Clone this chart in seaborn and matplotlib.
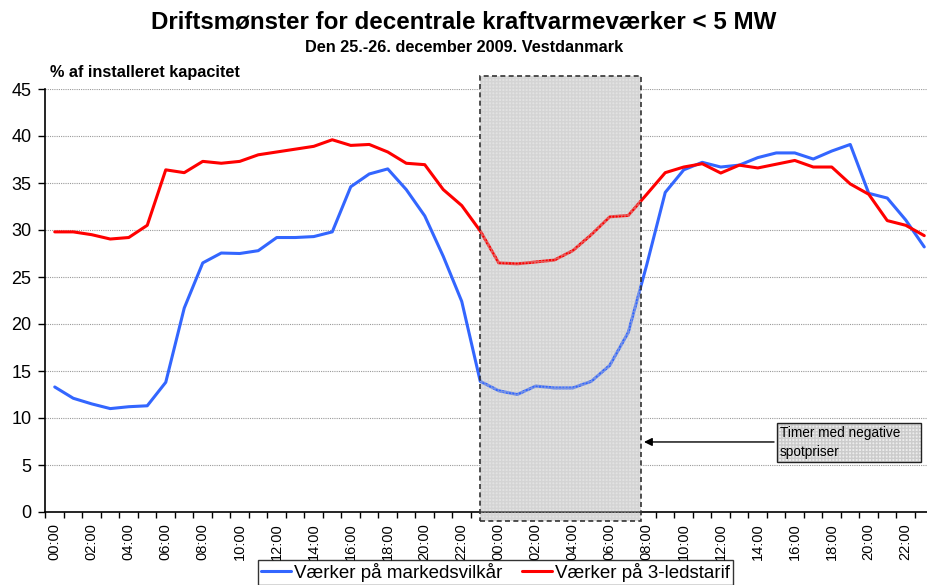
import matplotlib
matplotlib.use("Agg")
import matplotlib.pyplot as plt
from matplotlib.patches import Rectangle
from matplotlib.ticker import FixedLocator
import seaborn as sns
import pandas as pd
import numpy as np

hours = [f"{h:02d}:00" for h in range(24)]
tick_labels = hours[::2] + hours[::2]

markeds = [13.3, 12.1, 11.5, 11.0, 11.2, 11.3, 13.8, 21.7, 26.5, 27.55, 27.5, 27.8,
           29.2, 29.2, 29.3, 29.8, 34.6, 35.96, 36.5, 34.3, 31.5, 27.2, 22.4, 13.9,
           12.9, 12.5, 13.4, 13.2, 13.2, 13.9, 15.6, 19.1, 26.3, 34.0, 36.4, 37.2,
           36.7, 36.9, 37.7, 38.2, 38.2, 37.55, 38.4, 39.1, 33.9, 33.4, 31.06, 28.2]
treled = [29.8, 29.8, 29.5, 29.04, 29.2, 30.5, 36.4, 36.1, 37.3, 37.1, 37.3, 38.0,
          38.3, 38.6, 38.9, 39.6, 39.0, 39.1, 38.3, 37.1, 36.95, 34.3, 32.6, 29.9,
          26.5, 26.4, 26.6, 26.8, 27.8, 29.5, 31.4, 31.55, 33.8, 36.1, 36.7, 37.05,
          36.06, 36.9, 36.6, 37.0, 37.4, 36.7, 36.7, 34.9, 33.8, 31.0, 30.5, 29.4]
series_names = ["Værker på markedsvilkår", "Værker på 3-ledstarif"]
neg_start, neg_end = 23.0, 31.7

sns.set_theme(style="white")
plt.rcParams['font.family'] = ['Liberation Sans', 'DejaVu Sans']
plt.rcParams['text.color'] = 'black'
plt.rcParams['xtick.color'] = 'black'
plt.rcParams['ytick.color'] = 'black'
plt.rcParams['axes.labelcolor'] = 'black'

n = len(markeds)
df = pd.DataFrame({
    "t": list(range(n)) * 2,
    "val": markeds + treled,
    "serie": [series_names[0]] * n + [series_names[1]] * n,
})

fig = plt.figure(figsize=(9.28, 5.85), dpi=100)
ax = fig.add_axes([45.5/928, 73/585, 888/928, 423/585])

sns.lineplot(data=df, x="t", y="val", hue="serie", ax=ax,
             palette=["#3366FF", "#FF0000"], linewidth=2.2, zorder=3)

ax.set_xlim(-0.5, n - 0.5)
ax.set_ylim(0, 45)
ax.set_yticks(range(0, 46, 5))
ax.set_xlabel("")
ax.set_ylabel("")

for yv in range(5, 46, 5):
    ax.axhline(yv, color="#9a9a9a", lw=0.8, ls=(0, (1, 1)), zorder=1)

ax.xaxis.set_major_locator(FixedLocator(np.arange(-0.5, n, 1.0)))
ax.xaxis.set_minor_locator(FixedLocator(np.arange(0, n, 2)))
ax.set_xticklabels([], minor=False)
ax.set_xticklabels(tick_labels, minor=True, rotation=90, fontsize=10.5)
ax.tick_params(axis="x", which="major", direction="out", length=4, width=1, color="black", bottom=True)
ax.tick_params(axis="x", which="minor", length=0, pad=8, bottom=True)
ax.tick_params(axis="y", direction="out", length=5, width=1, color="black", labelsize=13, pad=5, left=True)

for s in ["top", "right"]:
    ax.spines[s].set_visible(False)
for s in ["left", "bottom"]:
    ax.spines[s].set_color("black")
    ax.spines[s].set_linewidth(1.2)

# shaded negative-price region
ax.add_patch(Rectangle((neg_start, -0.96), neg_end - neg_start, 47.36, facecolor="#e2e2e2",
                       edgecolor="none", zorder=2, clip_on=False))
ax.add_patch(Rectangle((neg_start, -0.96), neg_end - neg_start, 47.36, fill=False, hatch="+++++",
                       edgecolor="#c4c4c4", linewidth=0, zorder=4, clip_on=False, alpha=0.45))
ax.add_patch(Rectangle((neg_start, -0.96), neg_end - neg_start, 47.36, fill=False,
                       edgecolor="#333333", linewidth=1.2, ls=(0, (3, 2)), zorder=5, clip_on=False))

# annotation box
bx0, bx1, by0, by1 = 39.03, 46.82, 5.32, 9.47
ax.add_patch(Rectangle((bx0, by0), bx1 - bx0, by1 - by0, facecolor="#ececec", edgecolor="none", zorder=5))
ax.add_patch(Rectangle((bx0, by0), bx1 - bx0, by1 - by0, fill=False, hatch="+++++",
                       edgecolor="#cccccc", linewidth=0, zorder=5))
ax.add_patch(Rectangle((bx0, by0), bx1 - bx0, by1 - by0, fill=False, edgecolor="#222222",
                       linewidth=1.0, zorder=6))
ax.text(bx0 + 0.15, (by0 + by1) / 2, "Timer med negative\nspotpriser", fontsize=9.8,
        ha="left", va="center", zorder=7, linespacing=1.45)
ax.annotate("", xy=(neg_end, 7.45), xytext=(bx0, 7.45),
            arrowprops=dict(arrowstyle="-|>", color="black", lw=1.0, mutation_scale=12), zorder=7)

# titles
fig.text(463.5/928, 1 - 22/585, "Driftsmønster for decentrale kraftvarmeværker < 5 MW",
         ha="center", va="center", fontsize=17.4, fontweight="bold")
fig.text(464/928, 1 - 47/585, "Den 25.-26. december 2009. Vestdanmark",
         ha="center", va="center", fontsize=11.7, fontweight="bold")
fig.text(50/928, 1 - 72/585, "% af installeret kapacitet", ha="left", va="center",
         fontsize=11.7, fontweight="bold")

handles, labels = ax.get_legend_handles_labels()
ax.get_legend().remove()
leg = fig.legend(handles, labels, loc="upper center", bbox_to_anchor=(495.5/928, 25/585),
                 ncol=2, fontsize=13.5, frameon=True, fancybox=False, edgecolor="black",
                 handlelength=1.6, handletextpad=0.2, columnspacing=1.0, borderpad=0.15,
                 borderaxespad=0)
leg.get_frame().set_linewidth(1.0)

fig.savefig("out.png", dpi=100)
